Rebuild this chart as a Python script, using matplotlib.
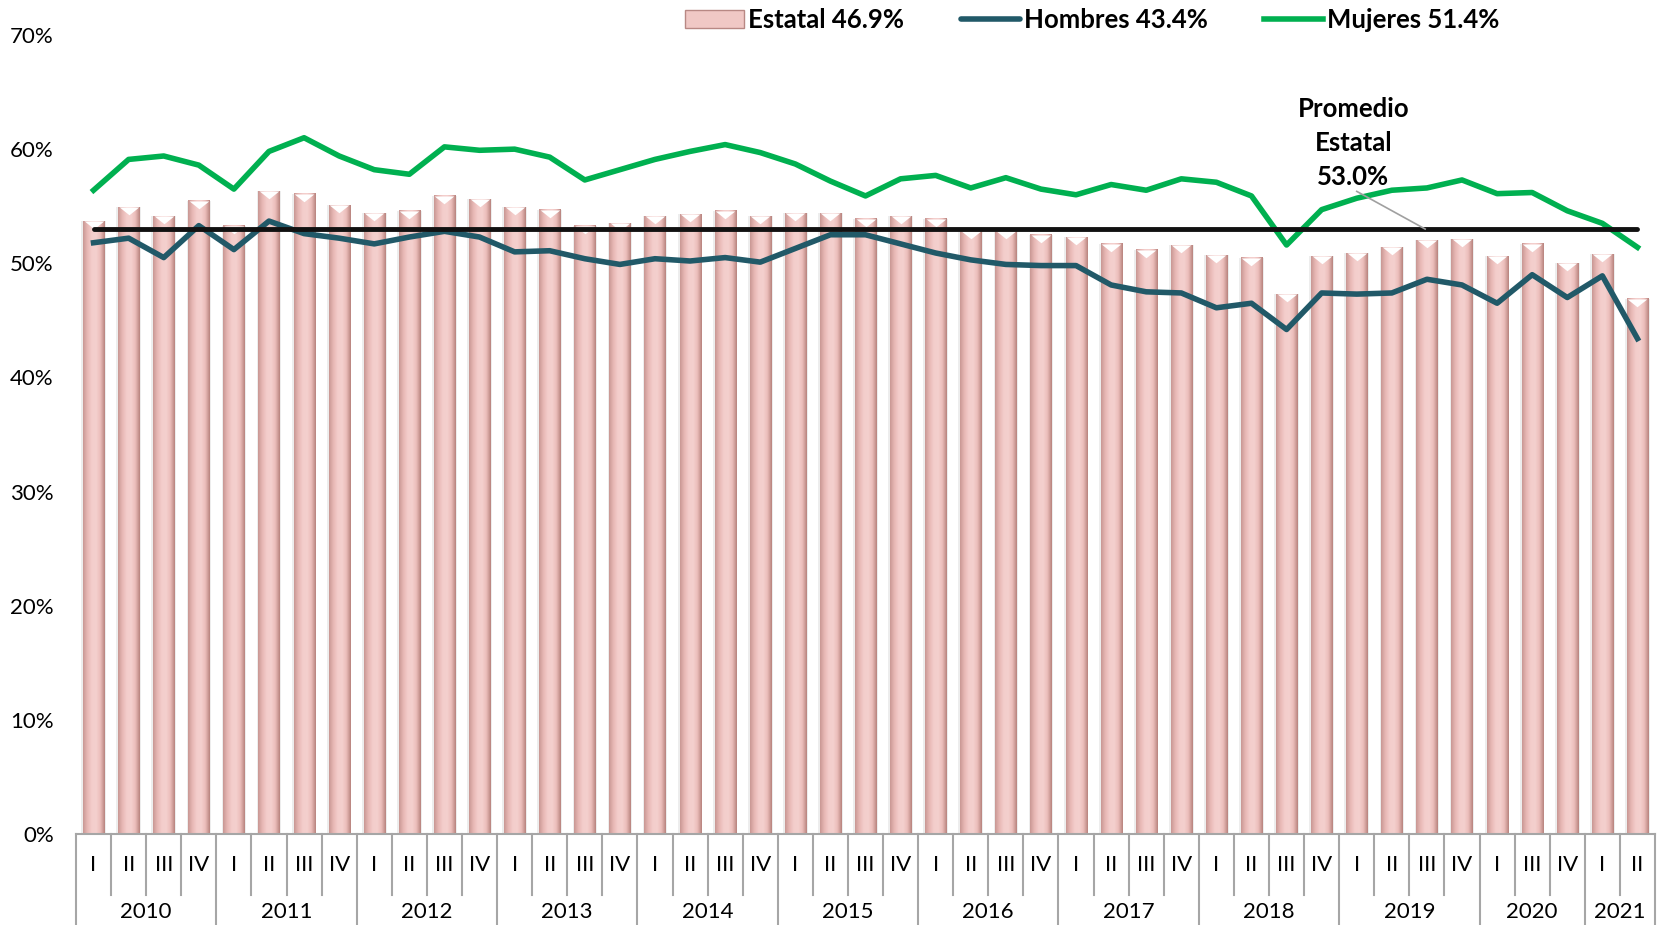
import numpy as np
import matplotlib
matplotlib.use("Agg")
import matplotlib.pyplot as plt
from matplotlib.colors import LinearSegmentedColormap
from matplotlib.lines import Line2D
from matplotlib.patches import Patch
from matplotlib.path import Path

plt.rcParams['font.family'] = ['Lato', 'DejaVu Sans']

# --- Datos ---
years = ["2010", "2011", "2012", "2013", "2014", "2015", "2016", "2017",
         "2018", "2019", "2020", "2021"]
quarters_per_year = [
    ["I", "II", "III", "IV"], ["I", "II", "III", "IV"], ["I", "II", "III", "IV"],
    ["I", "II", "III", "IV"], ["I", "II", "III", "IV"], ["I", "II", "III", "IV"],
    ["I", "II", "III", "IV"], ["I", "II", "III", "IV"], ["I", "II", "III", "IV"],
    ["I", "II", "III", "IV"], ["I", "III", "IV"], ["I", "II"],
]

estatal = [53.7, 54.9, 54.1, 55.5, 53.3, 56.3, 56.1, 55.1,
           54.4, 54.6, 55.9, 55.6, 54.9, 54.7, 53.3, 53.5,
           54.1, 54.3, 54.6, 54.1, 54.4, 54.4, 53.9, 54.1,
           53.9, 52.8, 52.8, 52.5, 52.3, 51.7, 51.2, 51.6,
           50.7, 50.5, 47.3, 50.6, 50.9, 51.4, 52.0, 52.1,
           50.6, 51.7, 50.0, 50.8, 46.9]
hombres = [51.8, 52.2, 50.5, 53.3, 51.2, 53.7, 52.6, 52.2,
           51.7, 52.3, 52.8, 52.3, 51.0, 51.1, 50.4, 49.9,
           50.4, 50.2, 50.5, 50.1, 51.3, 52.5, 52.5, 51.7,
           50.9, 50.3, 49.9, 49.8, 49.8, 48.1, 47.5, 47.4,
           46.1, 46.5, 44.2, 47.4, 47.3, 47.4, 48.6, 48.1,
           46.5, 49.0, 47.0, 48.9, 43.4]
mujeres = [56.4, 59.1, 59.4, 58.6, 56.5, 59.8, 61.0, 59.4,
           58.2, 57.8, 60.2, 59.9, 60.0, 59.3, 57.3, 58.2,
           59.1, 59.8, 60.4, 59.7, 58.7, 57.2, 55.9, 57.4,
           57.7, 56.6, 57.5, 56.5, 56.0, 56.9, 56.4, 57.4,
           57.1, 55.9, 51.6, 54.7, 55.7, 56.4, 56.6, 57.3,
           56.1, 56.2, 54.6, 53.5, 51.4]
promedio = 53.0

quarters = [q for grp in quarters_per_year for q in grp]
n = len(quarters)
x = np.arange(n)

# --- Colores ---
C_HOMBRES = "#215968"
C_MUJERES = "#00B050"
C_GRID = "#A6A6A6"
bar_cmap = LinearSegmentedColormap.from_list(
    "barra", ["#C99894", "#E8B8B5", "#F3CDCB", "#F4D0CE", "#EBBDBA", "#B8847F"])

fig = plt.figure(figsize=(16.6, 9.25), dpi=100)
ax = fig.add_axes([76 / 1660, 91 / 925, 1579 / 1660, 799 / 925])

# barras con gradiente tipo cilindro
bw = 0.6
grad = np.linspace(0, 1, 64).reshape(1, -1)
ax.bar(x, estatal, width=bw + 0.1, color="black", alpha=0.07, zorder=1)
for i, v in enumerate(estatal):
    ax.imshow(grad, extent=(i - bw / 2, i + bw / 2, 0, v), aspect="auto",
              cmap=bar_cmap, interpolation="bilinear", zorder=2)
tri = Path([(-1, 0), (1, 0), (0, -0.8), (-1, 0)],
           [Path.MOVETO, Path.LINETO, Path.LINETO, Path.CLOSEPOLY])
ax.plot(x, estatal, ls="none", marker=tri, ms=14, mfc="white", mec="none", zorder=3)

# lineas
ax.plot(x, hombres, color=C_HOMBRES, lw=4.0, zorder=5, solid_joinstyle="round")
ax.plot(x, mujeres, color=C_MUJERES, lw=4.0, zorder=5, solid_joinstyle="round")
ax.plot(x, [promedio] * n, color="#111111", lw=3.5, zorder=6, solid_capstyle="round")

# etiqueta del promedio
ax.text(35.9, 60.5, f"Promedio\nEstatal\n{promedio:.1f}%", ha="center", va="center",
        fontsize=18.5, fontweight="bold", linespacing=1.5, zorder=7)
ax.plot([36.0, 37.95], [56.3, promedio], color="#A0A0A0", lw=1.2, zorder=6)

ax.set_xlim(-0.5, n - 0.5)
ax.set_ylim(0, 70)
ax.set_yticks(np.arange(0, 71, 10))
ax.set_yticklabels([f"{t}%" for t in range(0, 71, 10)], fontsize=16)
ax.tick_params(axis="y", length=0, pad=16)
ax.set_xticks([])
for s in ax.spines.values():
    s.set_visible(False)

# eje de categorias de dos niveles
tr = ax.get_xaxis_transform()
ax.plot([-0.5, n - 0.5], [0, 0], color=C_GRID, lw=1.5, transform=tr, clip_on=False)
bounds = np.cumsum([0] + [len(g) for g in quarters_per_year]) - 0.5
for b in np.arange(n + 1) - 0.5:
    bottom = -0.13 if b in bounds else -0.076
    ax.plot([b, b], [0, bottom], color=C_GRID, lw=1.5, transform=tr, clip_on=False)
for i, q in enumerate(quarters):
    ax.text(i, -0.039, q, transform=tr, ha="center", va="center", fontsize=16)
for k, yr in enumerate(years):
    ax.text((bounds[k] + bounds[k + 1]) / 2, -0.098, yr, transform=tr,
            ha="center", va="center", fontsize=16)

# leyenda
handles = [
    Patch(facecolor="#F0C8C5", edgecolor="#B88884", lw=1),
    Line2D([], [], color=C_HOMBRES, lw=4.0, solid_capstyle="round"),
    Line2D([], [], color=C_MUJERES, lw=4.0),
]
labels = [f"Estatal {estatal[-1]:.1f}%", f"Hombres {hombres[-1]:.1f}%",
          f"Mujeres {mujeres[-1]:.1f}%"]
leg = fig.legend(handles, labels, loc="center", bbox_to_anchor=(0.658, 1 - 20 / 925),
                 ncol=3, frameon=False, handlelength=2.3, handleheight=0.75,
                 handletextpad=0.15, columnspacing=2.2,
                 prop={"size": 18.5, "weight": "bold"})

fig.savefig("out.png", dpi=100)
